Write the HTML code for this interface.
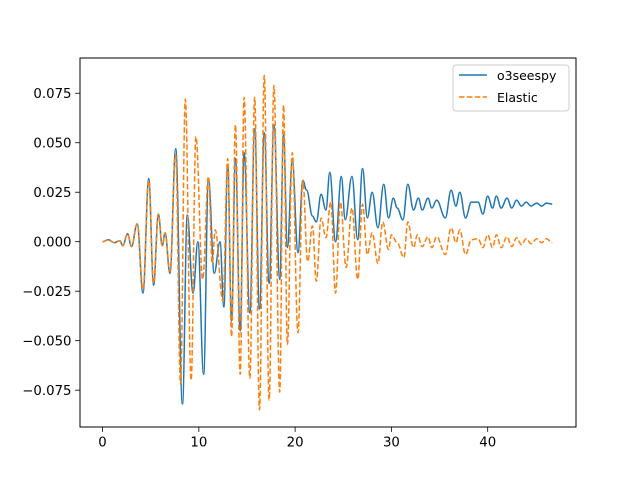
<!DOCTYPE html>
<html><head><meta charset="utf-8"><style>body{margin:0;background:#fff}svg{display:block;font-family:"DejaVu Sans","Liberation Sans",sans-serif}</style></head>
<body>
<svg id="chart" width="640" height="480" xmlns="http://www.w3.org/2000/svg">
<rect x="0" y="0" width="640" height="480" fill="#fff"/>
<g id="plot"></g>
<rect x="80" y="58" width="496" height="369" fill="none" stroke="#000" stroke-width="1"/>
<g id="xticks"></g><g id="yticks"></g>
<g>
<rect x="453" y="65" width="116" height="46" rx="3" fill="#fff" fill-opacity="0.8" stroke="#ccc"/>
<line x1="459" y1="75" x2="487" y2="75" stroke="#1f77b4" stroke-width="1.5"/>
<text x="497" y="79.8" font-size="12.5">o3seespy</text>
<line x1="459" y1="97" x2="487" y2="97" stroke="#ff7f0e" stroke-width="1.5" stroke-dasharray="5.5,2.4"/>
<text x="497" y="101.8" font-size="12.5">Elastic</text>
</g>
</svg>
<script>
const xTicks=[0,10,20,30,40];
const yTicks=[-0.075,-0.050,-0.025,0.000,0.025,0.050,0.075];
const blueT=[0,0.6,1.2,1.8,2.1,2.6,3.0,3.6,4.2,4.8,5.3,5.8,6.2,6.5,7.0,7.6,8.3,8.8,9.4,9.9,10.5,11.0,11.6,12.2,12.6,13.0,13.4,13.8,14.3,14.7,15.3,15.8,16.3,16.8,17.3,17.8,18.4,18.8,19.2,19.7,20.3,20.8,21.2,21.8,22.2,22.7,23.2,23.6,24.2,24.8,25.2,25.9,26.5,27.0,27.5,28.0,28.6,29.2,29.7,30.2,30.6,31.2,31.7,32.3,32.8,33.2,33.8,34.2,34.7,35.6,36.2,36.7,37.1,37.7,38.3,39.0,39.5,40.0,40.5,40.9,41.4,42.0,42.5,43.0,43.5,44.0,44.5,45.1,45.6,46.1,46.7];
const blueV=[0,0.001,-0.0005,0.0005,-0.002,0.004,-0.0025,0.009,-0.026,0.032,-0.022,0.014,-0.002,0.0045,-0.016,0.047,-0.082,0.0135,-0.026,0.0,-0.067,0.032,-0.016,0.0,-0.033,0.039,-0.040,0.042,-0.045,0.045,-0.036,0.057,-0.034,0.055,-0.021,0.059,-0.019,0.054,-0.003,0.041,-0.0055,0.031,0.026,0.013,0.010,0.024,0.016,0.035,0.0,0.033,0.011,0.033,0.001,0.037,0.012,0.025,0.007,0.029,0.012,0.022,0.017,0.011,0.029,0.016,0.022,0.016,0.022,0.017,0.021,0.012,0.026,0.018,0.025,0.012,0.020,0.020,0.014,0.023,0.017,0.023,0.017,0.022,0.017,0.021,0.018,0.020,0.018,0.0195,0.018,0.0195,0.019];
const elasT=[0,0.6,1.2,1.8,2.1,2.6,3.0,3.6,4.2,4.8,5.3,5.8,6.2,6.5,7.0,7.6,8.1,8.6,9.2,9.7,10.4,11.0,11.4,11.7,12.5,13.0,13.4,13.8,14.3,14.7,15.3,15.8,16.3,16.8,17.3,17.8,18.4,18.8,19.2,19.7,20.3,20.8,21.3,21.8,22.2,22.7,23.2,23.7,24.2,24.7,25.3,25.9,26.5,27.0,27.5,28.0,28.6,29.1,29.7,30.0,30.6,31.3,31.7,32.3,32.7,33.2,33.8,34.2,34.7,35.6,36.2,36.7,37.1,37.7,38.3,39.0,39.5,40.0,40.5,40.9,41.4,42.0,42.5,43.0,43.5,44.0,44.5,45.1,45.6,46.1,46.7];
const elasV=[0,0.001,-0.0005,0.0005,-0.002,0.004,-0.0025,0.009,-0.024,0.031,-0.021,0.014,-0.002,0.0045,-0.015,0.044,-0.072,0.072,-0.070,0.053,-0.019,0.033,-0.011,0.006,-0.030,0.042,-0.048,0.059,-0.067,0.073,-0.069,0.073,-0.085,0.084,-0.080,0.079,-0.076,0.069,-0.052,0.045,-0.046,0.031,-0.010,0.008,-0.020,0.012,0.002,0.020,-0.026,0.020,-0.013,0.017,-0.019,0.019,-0.0065,0.0045,-0.011,0.010,-0.004,0.0035,-0.0005,-0.008,0.010,-0.003,0.0035,-0.0025,0.0025,-0.003,0.0025,-0.0065,0.007,-0.0005,0.006,-0.0065,0.001,0.0015,-0.003,0.0035,-0.003,0.0035,-0.003,0.0025,-0.0025,0.002,-0.0015,0.0015,-0.001,0.0015,-0.0005,0.0015,-0.0005];
const X0=-2.34,X1=49.17,Y0=-0.0936,Y1=0.0928;
function sx(t){return 80+(t-X0)/(X1-X0)*496;}
function sy(v){return 427-(v-Y0)/(Y1-Y0)*369;}
const NS="http://www.w3.org/2000/svg";
function mk(tag,attrs,parent){const e=document.createElementNS(NS,tag);for(const k in attrs)e.setAttribute(k,attrs[k]);parent.appendChild(e);return e;}
function pathFor(T,V){let d="M"+sx(T[0]).toFixed(2)+","+sy(V[0]).toFixed(2);
 for(let i=0;i<T.length-1;i++){const x0=sx(T[i]),x1=sx(T[i+1]),y0=sy(V[i]),y1=sy(V[i+1]);const dx=(x1-x0)/2.6;
 d+=" C"+(x0+dx).toFixed(2)+","+y0.toFixed(2)+" "+(x1-dx).toFixed(2)+","+y1.toFixed(2)+" "+x1.toFixed(2)+","+y1.toFixed(2);}
 return d;}
const plot=document.getElementById('plot');
const pb=mk('path',{d:pathFor(blueT,blueV),fill:'none',stroke:'#1f77b4','stroke-width':1.5,'stroke-linejoin':'round'},plot);


const pe=mk('path',{d:pathFor(elasT,elasV),fill:'none',stroke:'#ff7f0e','stroke-width':1.5,'stroke-dasharray':'5.5,2.4'},plot);


const xg=document.getElementById('xticks');
xTicks.forEach(t=>{const x=sx(t);
 const l=mk('line',{x1:x,y1:427,x2:x,y2:431.9,stroke:'#000','stroke-width':0.8},xg);
 
 
 const tx=mk('text',{x:x,y:446.5,'font-size':13.3,'text-anchor':'middle'},xg);tx.textContent=t;
 
 });
const yg=document.getElementById('yticks');
yTicks.forEach(v=>{const y=sy(v);
 const l=mk('line',{x1:75.1,y1:y,x2:80,y2:y,stroke:'#000','stroke-width':0.8},yg);
 
 
 const tx=mk('text',{x:71.5,y:y+4.8,'font-size':13.3,'text-anchor':'end'},yg);tx.textContent=(v<0?"\u2212":"")+Math.abs(v).toFixed(3);
 
 });
</script>
</body></html>
